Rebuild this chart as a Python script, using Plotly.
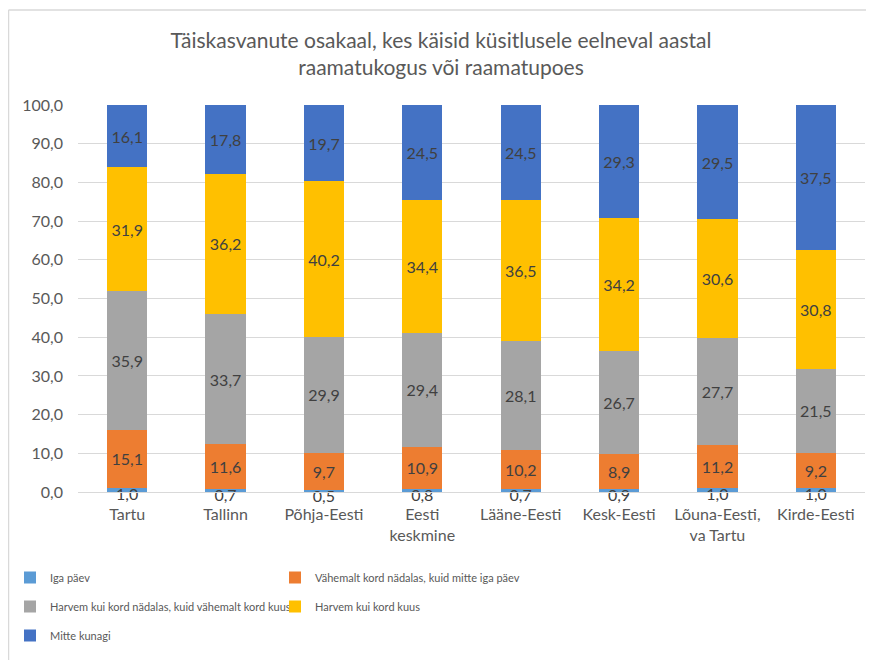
import plotly.graph_objects as go

categories = ["Tartu", "Tallinn", "Põhja-Eesti", "Eesti<br>keskmine", "Lääne-Eesti",
              "Kesk-Eesti", "Lõuna-Eesti,<br>va Tartu", "Kirde-Eesti"]
iga_paev = [1.0, 0.7, 0.5, 0.8, 0.7, 0.9, 1.0, 1.0]
vahemalt_nadalas = [15.1, 11.6, 9.7, 10.9, 10.2, 8.9, 11.2, 9.2]
harvem_nadalas = [35.9, 33.7, 29.9, 29.4, 28.1, 26.7, 27.7, 21.5]
harvem_kuus = [31.9, 36.2, 40.2, 34.4, 36.5, 34.2, 30.6, 30.8]
mitte_kunagi = [16.1, 17.8, 19.7, 24.5, 24.5, 29.3, 29.5, 37.5]

series = [
    ("Iga päev", iga_paev, "#5B9BD5", "legend"),
    ("Vähemalt kord nädalas, kuid mitte iga päev", vahemalt_nadalas, "#ED7D31", "legend2"),
    ("Harvem kui kord nädalas, kuid vähemalt kord kuus", harvem_nadalas, "#A5A5A5", "legend"),
    ("Harvem kui kord kuus", harvem_kuus, "#FFC000", "legend2"),
    ("Mitte kunagi", mitte_kunagi, "#4472C4", "legend"),
]

FONT = "Lato, Open Sans, sans-serif"
LABEL = dict(family=FONT, size=16, color="#404040")
fig = go.Figure()
for i, (name, vals, color, lg) in enumerate(series):
    fig.add_trace(go.Bar(
        x=categories, y=vals, name=name, marker=dict(color=color, line=dict(width=0)),
        text=None if i == 0 else vals,
        texttemplate=None if i == 0 else "%{y:.1f}",
        textposition="none" if i == 0 else "inside",
        insidetextanchor="middle",
        textfont=LABEL,
        legend=lg, legendgroup=name, hoverinfo="skip",
    ))

# labels for the thin bottom segment, shown just below it
fig.add_trace(go.Scatter(
    x=categories, y=iga_paev, mode="text", texttemplate="%{y:.1f}",
    textposition="bottom center", textfont=LABEL,
    showlegend=False, hoverinfo="skip", cliponaxis=False,
))

# page body has an 8px margin: figure coords = reference px - 8
W, H = 866, 652
L, R, T, B = 70, 9, 97, 168
pw, ph = W - L - R, H - T - B

def px2x(px):
    return (px - L) / pw

def py2y(py):
    return (H - B - py) / ph

LEG_FONT = dict(size=11, color="#595959")
fig.update_layout(
    width=W, height=H, barmode="stack", bargap=0.59,
    margin=dict(l=L, r=R, t=T, b=B, autoexpand=False),
    separators=", ",
    uniformtext=dict(minsize=16, mode="show"),
    paper_bgcolor="white", plot_bgcolor="white",
    font=dict(family=FONT, color="#595959", size=16),
    title=dict(text="Täiskasvanute osakaal, kes käisid küsitlusele eelneval aastal<br>raamatukogus või raamatupoes",
               x=px2x(433), xref="paper", xanchor="center", y=1 - 40 / H, yanchor="top",
               font=dict(family=FONT, size=21, color="#595959")),
    yaxis=dict(range=[0, 100], dtick=10, tickformat=".1f", gridcolor="#D9D9D9", gridwidth=1,
               zeroline=False, showline=False, ticklabelstandoff=14,
               tickfont=dict(size=16, color="#595959")),
    xaxis=dict(showline=True, linecolor="#D9D9D9", ticks="", ticklabelstandoff=8,
               tickfont=dict(size=16, color="#595959")),
    legend=dict(orientation="v", x=px2x(2), xanchor="left", y=py2y(555), yanchor="top",
                traceorder="grouped", tracegroupgap=10, font=LEG_FONT,
                bgcolor="rgba(0,0,0,0)"),
    legend2=dict(orientation="v", x=px2x(267), xanchor="left", y=py2y(555), yanchor="top",
                 traceorder="grouped", tracegroupgap=10, font=LEG_FONT,
                 bgcolor="rgba(0,0,0,0)"),
    shapes=[
        dict(type="line", xref="paper", yref="paper", x0=px2x(0.5), x1=px2x(W + 20),
             y0=py2y(2), y1=py2y(2), line=dict(color="#D9D9D9", width=1.5), layer="below"),
        dict(type="line", xref="paper", yref="paper", x0=px2x(0.5), x1=px2x(0.5),
             y0=py2y(2), y1=py2y(H + 20), line=dict(color="#D9D9D9", width=1.5), layer="below"),
    ],
)

fig.write_html("out.html")
